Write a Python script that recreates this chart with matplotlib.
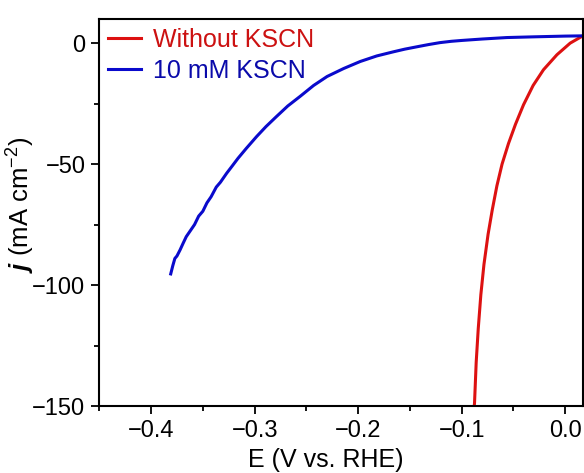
import matplotlib
matplotlib.use("Agg")
import matplotlib.pyplot as plt
from matplotlib.ticker import MultipleLocator

plt.rcParams['font.family'] = ['Liberation Sans', 'DejaVu Sans']
plt.rcParams['mathtext.fontset'] = 'custom'
plt.rcParams['mathtext.rm'] = 'Liberation Sans'
plt.rcParams['mathtext.it'] = 'Liberation Sans:italic'
plt.rcParams['mathtext.bf'] = 'Liberation Sans:italic:bold'

# Without KSCN (red)
e_red = [0.017, 0.0048, -0.008, -0.021, -0.031, -0.0403, -0.048, -0.0548, -0.061,
         -0.066, -0.0705, -0.0745, -0.0785, -0.0815, -0.084, -0.086, -0.0876, -0.088]
j_red = [3.0, 0.0, -4.8, -11.0, -17.5, -25.5, -33.5, -41.5, -50.0,
         -59.0, -69.0, -79.0, -91.5, -104.0, -118.0, -132.0, -148.8, -150.5]

# 10 mM KSCN (blue)
e_blue = [0.017, 0.000, -0.030, -0.0564, -0.080, -0.100, -0.110, -0.121, -0.132, -0.143,
          -0.155, -0.166, -0.182,
          -0.198, -0.214, -0.230, -0.243, -0.256, -0.268, -0.279, -0.289, -0.298, -0.308,
          -0.316, -0.322, -0.327, -0.333, -0.337, -0.342, -0.346, -0.350, -0.354, -0.358,
          -0.362, -0.366, -0.369, -0.372, -0.375, -0.377, -0.379, -0.381]
j_blue = [3.0, 2.9, 2.6, 2.3, 1.7, 1.1, 0.75, 0.2, -0.6, -1.5,
          -2.5, -3.6, -5.3,
          -7.6, -10.5, -13.8, -17.5, -22.0, -26.0, -30.4, -34.5, -38.6, -43.5,
          -47.6, -51.0, -53.8, -57.5, -59.5, -63.5, -66.0, -69.5, -71.5, -75.0,
          -77.5, -80.0, -82.7, -85.5, -88.0, -89.0, -92.0, -95.4]

fig = plt.figure(figsize=(5.84, 4.73), dpi=100)
ax = fig.add_axes([0.170, 0.1416, 0.828, 0.8184])

ax.plot(e_red, j_red, color='#dd1111', lw=2.2, label='Without KSCN')
ax.plot(e_blue, j_blue, color='#0a0acc', lw=2.2, label='10 mM KSCN')

ax.set_xlim(-0.45, 0.017)
ax.set_ylim(-150, 10)
ax.xaxis.set_major_locator(MultipleLocator(0.1))
ax.xaxis.set_minor_locator(MultipleLocator(0.05))
ax.yaxis.set_major_locator(MultipleLocator(50))
ax.yaxis.set_minor_locator(MultipleLocator(25))
ax.xaxis.set_major_formatter(plt.FuncFormatter(lambda v, p: f"{v:.1f}".replace('-', '\u2212') if abs(v) > 1e-9 else "0.0"))
ax.yaxis.set_major_formatter(plt.FuncFormatter(lambda v, p: f"{int(round(v))}".replace('-', '\u2212')))

ax.tick_params(which='both', direction='out', top=False, right=False, width=1.3, labelsize=17, pad=4)
ax.tick_params(which='major', length=6)
ax.tick_params(which='minor', length=3.5)
for s in ax.spines.values():
    s.set_linewidth(1.5)

ax.set_xlabel('E (V vs. RHE)', fontsize=18)
ax.set_ylabel(r'$\mathbf{j}$ (mA cm$^{-2}$)', fontsize=18.5)
ax.xaxis.set_label_coords(0.469, -0.108)
ax.yaxis.set_label_coords(-0.128, 0.52)

leg = ax.legend(loc='upper left', frameon=False, fontsize=18, handlelength=1.3,
                handletextpad=0.5, borderaxespad=0.1, borderpad=0.25, labelspacing=0.28)
for t, c in zip(leg.get_texts(), ['#cc1111', '#0a0aaa']):
    t.set_color(c)

fig.savefig('out.png', dpi=100)
